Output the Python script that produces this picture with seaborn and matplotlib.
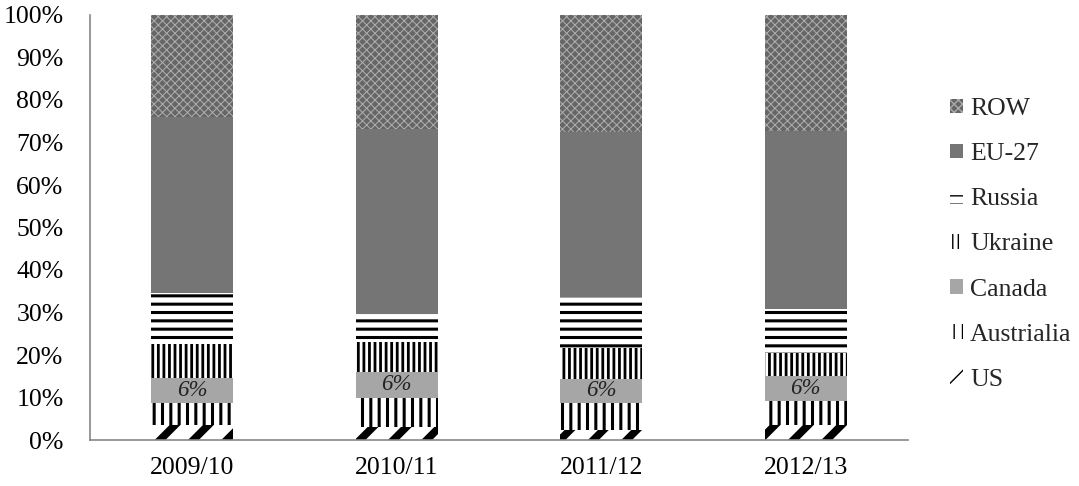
import numpy as np
import matplotlib
matplotlib.use("Agg")
import matplotlib.pyplot as plt
from matplotlib.ticker import FixedLocator
import seaborn as sns

# Share of each origin in total volume, percent
years = ["2009/10", "2010/11", "2011/12", "2012/13"]
us = [3.5, 3.0, 2.4, 3.5]
australia = [5.2, 6.9, 6.3, 5.7]
canada = [5.9, 6.1, 5.7, 5.8]
ukraine = [8.0, 7.0, 7.2, 5.5]
russia = [11.9, 6.6, 12.1, 10.3]
eu27 = [41.5, 43.5, 38.7, 42.0]
row = [24.0, 26.9, 27.6, 27.2]
series_names = ["US", "Austrialia", "Canada", "Ukraine", "Russia", "EU-27", "ROW"]
y_ticks = list(range(0, 101, 10))

series_values = [us, australia, canada, ukraine, russia, eu27, row]

# fill, hatch, hatch colour, hatch line width
styles = {
    "US": ("white", "/", "black", 5.5),
    "Austrialia": ("white", "||", "black", 2.2),
    "Canada": ("#a6a6a6", "", "#a6a6a6", 1.0),
    "Ukraine": ("white", "|||", "black", 2.0),
    "Russia": ("white", "--", "black", 2.2),
    "EU-27": ("#757575", "", "#757575", 1.0),
    "ROW": ("#666666", "xxxx", "#acacac", 0.75),
}

sns.set_style("white")
plt.rcParams["font.family"] = ["Liberation Serif", "DejaVu Serif"]
FS = 18.5

fig = plt.figure(figsize=(10.79, 4.86), dpi=100)
ax = fig.add_axes([90 / 1079, 1 - 440 / 486, 818 / 1079, 425 / 486])

bottom = np.zeros(len(years))
for name, vals in zip(series_names, series_values):
    face, hatch, hcol, hlw = styles[name]
    with plt.rc_context({"hatch.linewidth": hlw}):
        sns.barplot(x=years, y=vals, order=years, bottom=bottom, color=face,
                    saturation=1, hatch=hatch, edgecolor=hcol, linewidth=0,
                    width=0.4, errorbar=None, ax=ax)
    cont = ax.containers[-1]
    for p in cont.patches:
        try:
            p.set_hatch_linewidth(hlw)
        except AttributeError:
            pass
    if name == "Canada":
        for i, v in enumerate(vals):
            ax.text(i, bottom[i] + v / 2, f"{v:.0f}%", ha="center", va="center",
                    fontsize=FS - 2, fontstyle="italic", color="#222222")
    bottom += np.array(vals)

ax.set_xlim(-0.5, len(years) - 0.5)
ax.set_ylim(0, 100)
ax.set_yticks(y_ticks)
ax.set_yticklabels([f"{t}%" for t in y_ticks], fontsize=FS)
ax.set_xticklabels(years, fontsize=FS)
ax.set_xlabel("")
ax.set_ylabel("")

gray = "#868686"
for s in ["top", "right"]:
    ax.spines[s].set_visible(False)
for s in ["left", "bottom"]:
    ax.spines[s].set_color(gray)
    ax.spines[s].set_linewidth(1.2)

ax.xaxis.set_minor_locator(FixedLocator(np.arange(-0.5, len(years), 1.0)))
ax.tick_params(axis="x", which="major", length=0, pad=12, colors="black")
ax.tick_params(axis="x", which="minor", direction="in", length=5, width=1.2, color=gray)
ax.tick_params(axis="y", which="major", direction="in", length=5, width=1.2,
               color=gray, pad=19, labelcolor="black")

handles = list(ax.containers)[::-1]
labels = series_names[::-1]
leg = ax.legend(handles, labels, loc="center left", bbox_to_anchor=(1.039, 0.46),
                frameon=False, fontsize=FS, handlelength=0.5, handleheight=0.5,
                handletextpad=0.27, labelspacing=0.9, borderaxespad=0)

fig.savefig("out.png", dpi=100)
